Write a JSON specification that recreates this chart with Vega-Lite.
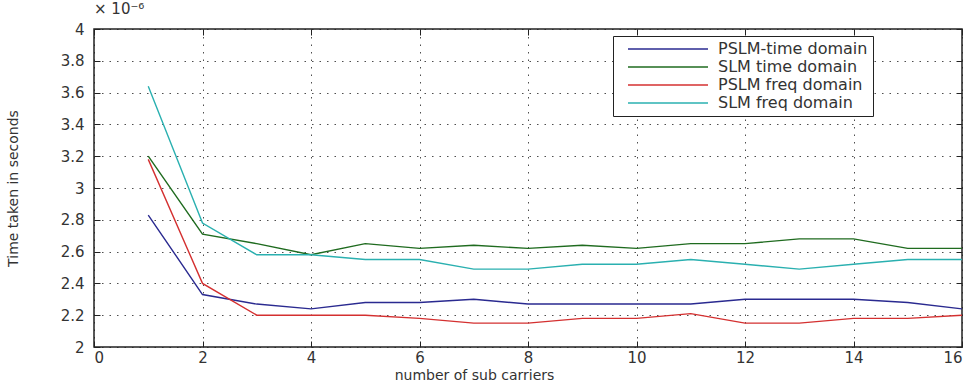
{
  "$schema": "https://vega.github.io/schema/vega-lite/v6.json",
  "autosize": "none",
  "width": 868,
  "height": 318,
  "padding": {"left": 94, "top": 29, "right": 12, "bottom": 36},
  "background": "white",
  "title": {"text": "× 10⁻⁶", "anchor": "start", "frame": "group", "offset": 5, "fontSize": 15, "font": "DejaVu Sans", "fontWeight": "normal", "color": "#333"},
  "config": {
    "view": {"stroke": "#222", "strokeWidth": 1.5},
    "axis": {"labelFont": "DejaVu Sans", "labelFontSize": 15, "labelColor": "#333", "titleFont": "DejaVu Sans", "titleFontWeight": "normal", "titleColor": "#333", "titleFontSize": 14, "domain": false, "tickColor": "#222", "grid": true, "gridColor": "#222", "gridDash": [1.5, 6], "gridOpacity": 0.8, "gridWidth": 1}
  },
  "data": {"values": [
    {"x": 1, "v": 2.83, "s": "PSLM-time domain"},
    {"x": 2, "v": 2.33, "s": "PSLM-time domain"},
    {"x": 3, "v": 2.27, "s": "PSLM-time domain"},
    {"x": 4, "v": 2.24, "s": "PSLM-time domain"},
    {"x": 5, "v": 2.28, "s": "PSLM-time domain"},
    {"x": 6, "v": 2.28, "s": "PSLM-time domain"},
    {"x": 7, "v": 2.30, "s": "PSLM-time domain"},
    {"x": 8, "v": 2.27, "s": "PSLM-time domain"},
    {"x": 9, "v": 2.27, "s": "PSLM-time domain"},
    {"x": 10, "v": 2.27, "s": "PSLM-time domain"},
    {"x": 11, "v": 2.27, "s": "PSLM-time domain"},
    {"x": 12, "v": 2.30, "s": "PSLM-time domain"},
    {"x": 13, "v": 2.30, "s": "PSLM-time domain"},
    {"x": 14, "v": 2.30, "s": "PSLM-time domain"},
    {"x": 15, "v": 2.28, "s": "PSLM-time domain"},
    {"x": 16, "v": 2.24, "s": "PSLM-time domain"},
    {"x": 1, "v": 3.20, "s": "SLM time domain"},
    {"x": 2, "v": 2.71, "s": "SLM time domain"},
    {"x": 3, "v": 2.65, "s": "SLM time domain"},
    {"x": 4, "v": 2.58, "s": "SLM time domain"},
    {"x": 5, "v": 2.65, "s": "SLM time domain"},
    {"x": 6, "v": 2.62, "s": "SLM time domain"},
    {"x": 7, "v": 2.64, "s": "SLM time domain"},
    {"x": 8, "v": 2.62, "s": "SLM time domain"},
    {"x": 9, "v": 2.64, "s": "SLM time domain"},
    {"x": 10, "v": 2.62, "s": "SLM time domain"},
    {"x": 11, "v": 2.65, "s": "SLM time domain"},
    {"x": 12, "v": 2.65, "s": "SLM time domain"},
    {"x": 13, "v": 2.68, "s": "SLM time domain"},
    {"x": 14, "v": 2.68, "s": "SLM time domain"},
    {"x": 15, "v": 2.62, "s": "SLM time domain"},
    {"x": 16, "v": 2.62, "s": "SLM time domain"},
    {"x": 1, "v": 3.18, "s": "PSLM freq domain"},
    {"x": 2, "v": 2.40, "s": "PSLM freq domain"},
    {"x": 3, "v": 2.20, "s": "PSLM freq domain"},
    {"x": 4, "v": 2.20, "s": "PSLM freq domain"},
    {"x": 5, "v": 2.20, "s": "PSLM freq domain"},
    {"x": 6, "v": 2.18, "s": "PSLM freq domain"},
    {"x": 7, "v": 2.15, "s": "PSLM freq domain"},
    {"x": 8, "v": 2.15, "s": "PSLM freq domain"},
    {"x": 9, "v": 2.18, "s": "PSLM freq domain"},
    {"x": 10, "v": 2.18, "s": "PSLM freq domain"},
    {"x": 11, "v": 2.21, "s": "PSLM freq domain"},
    {"x": 12, "v": 2.15, "s": "PSLM freq domain"},
    {"x": 13, "v": 2.15, "s": "PSLM freq domain"},
    {"x": 14, "v": 2.18, "s": "PSLM freq domain"},
    {"x": 15, "v": 2.18, "s": "PSLM freq domain"},
    {"x": 16, "v": 2.20, "s": "PSLM freq domain"},
    {"x": 1, "v": 3.64, "s": "SLM freq domain"},
    {"x": 2, "v": 2.78, "s": "SLM freq domain"},
    {"x": 3, "v": 2.58, "s": "SLM freq domain"},
    {"x": 4, "v": 2.58, "s": "SLM freq domain"},
    {"x": 5, "v": 2.55, "s": "SLM freq domain"},
    {"x": 6, "v": 2.55, "s": "SLM freq domain"},
    {"x": 7, "v": 2.49, "s": "SLM freq domain"},
    {"x": 8, "v": 2.49, "s": "SLM freq domain"},
    {"x": 9, "v": 2.52, "s": "SLM freq domain"},
    {"x": 10, "v": 2.52, "s": "SLM freq domain"},
    {"x": 11, "v": 2.55, "s": "SLM freq domain"},
    {"x": 12, "v": 2.52, "s": "SLM freq domain"},
    {"x": 13, "v": 2.49, "s": "SLM freq domain"},
    {"x": 14, "v": 2.52, "s": "SLM freq domain"},
    {"x": 15, "v": 2.55, "s": "SLM freq domain"},
    {"x": 16, "v": 2.55, "s": "SLM freq domain"}
  ]},
  "layer": [
    {
      "mark": {"type": "line", "strokeWidth": 1.4, "clip": true},
      "encoding": {
        "x": {"field": "x", "type": "quantitative", "scale": {"domain": [0, 16], "nice": false}, "axis": {"title": "number of sub carriers", "values": [0, 2, 4, 6, 8, 10, 12, 14, 16], "tickSize": -6, "labelPadding": 9, "titleX": 380, "titlePadding": 3}},
        "y": {"field": "v", "type": "quantitative", "scale": {"domain": [2, 4], "nice": false, "zero": false}, "axis": {"title": "Time taken in seconds", "values": [2, 2.2, 2.4, 2.6, 2.8, 3, 3.2, 3.4, 3.6, 3.8, 4], "format": "~g", "tickSize": -6, "labelPadding": 16, "titlePadding": 40}},
        "color": {"field": "s", "type": "nominal", "sort": ["PSLM-time domain", "SLM time domain", "PSLM freq domain", "SLM freq domain"], "scale": {"domain": ["PSLM-time domain", "SLM time domain", "PSLM freq domain", "SLM freq domain"], "range": ["#2a2a90", "#1f6b1f", "#d43030", "#2ab0b0"]},
          "legend": {"title": null, "orient": "none", "legendX": 519, "legendY": 7, "symbolType": "M-8,0H8", "symbolSize": 100, "symbolOffset": 42, "symbolStrokeWidth": 1.4, "labelFont": "DejaVu Sans", "labelFontSize": 16, "labelColor": "#333", "labelOffset": 42, "labelLimit": 400, "strokeColor": "#222", "fillColor": "white", "padding": 5, "rowPadding": 2}}
      }
    },
    {
      "mark": {"type": "line", "opacity": 0},
      "encoding": {
        "x": {"field": "x", "type": "quantitative", "scale": {"domain": [0, 16], "nice": false}, "axis": {"orient": "top", "title": null, "labels": false, "grid": false, "values": [0, 2, 4, 6, 8, 10, 12, 14, 16], "tickSize": -6}},
        "y": {"field": "v", "type": "quantitative", "scale": {"domain": [2, 4], "nice": false, "zero": false}, "axis": {"orient": "right", "title": null, "labels": false, "grid": false, "values": [2, 2.2, 2.4, 2.6, 2.8, 3, 3.2, 3.4, 3.6, 3.8, 4], "tickSize": -6}},
        "detail": {"field": "s", "type": "nominal"}
      }
    }
  ],
  "resolve": {"axis": {"x": "independent", "y": "independent"}}
}
